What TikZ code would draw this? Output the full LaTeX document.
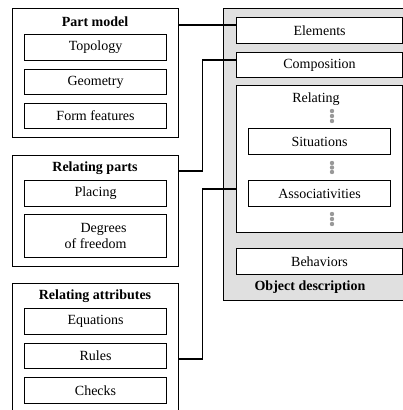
\documentclass[tikz,border=0pt]{standalone}
\usepackage{fontspec}
\setmainfont{Liberation Serif}
\begin{document}
\begin{tikzpicture}[x=1pt,y=-1pt,
  every node/.style={font=\fontsize{14}{16}\selectfont},
  box/.style={draw, line width=1.1pt, fill=white, inner sep=0pt, anchor=north west},
  outerbox/.style={box},
  panel/.style={draw, line width=1.1pt, fill=black!12, inner sep=0pt, anchor=north west},
  title/.style={font=\fontsize{14}{16}\selectfont\bfseries, inner sep=0pt},
  link/.style={line width=1.1pt},
  dot/.style={fill=black!40}
]
\useasboundingbox (0,0) rectangle (403,410);

% ---- left column: part model
\node[outerbox, minimum width=166, minimum height=129] (pm) at (12,8) {};
\node[title] (pmt) at (95,22) {Part model};
\node[box, minimum width=142, minimum height=26] (topo) at (24,34) {};
\node at (topo.center) {Topology};
\node[box, minimum width=142, minimum height=25] (geo) at (24,69) {};
\node at (geo.center) {Geometry};
\node[box, minimum width=142, minimum height=25] (ff) at (24,103) {};
\node at (ff.center) {Form features};

% ---- left column: relating parts
\node[outerbox, minimum width=166, minimum height=111] (rp) at (12,155) {};
\node[title] (rpt) at (95,168) {Relating parts};
\node[box, minimum width=142, minimum height=26] (plc) at (24,180) {};
\node at (plc.center) {Placing};
\node[box, minimum width=142, minimum height=43] (dof) at (24,214) {};
\node[align=right, inner sep=0pt] at (dof.center) {Degrees\\of freedom};

% ---- left column: relating attributes (runs past the lower edge)
\node[outerbox, minimum width=166, minimum height=140] (ra) at (12,283) {};
\node[title] (rat) at (95,296) {Relating attributes};
\node[box, minimum width=142, minimum height=26] (eq) at (24,308) {};
\node at (eq.center) {Equations};
\node[box, minimum width=142, minimum height=25] (rul) at (24,343) {};
\node at (rul.center) {Rules};
\node[box, minimum width=142, minimum height=26] (chk) at (24,377) {};
\node at (chk.center) {Checks};

% ---- right column: object description panel
\node[panel, minimum width=200, minimum height=292] (obj) at (223,8) {};
\node[box, minimum width=166, minimum height=26] (el) at (236,17) {};
\node at (el.center) {Elements};
\node[box, minimum width=166, minimum height=25] (comp) at (236,52) {};
\node at (comp.center) {Composition};
\node[box, minimum width=166, minimum height=147] (rel) at (236,85) {};
\node at (316,99) {Relating};
\node[box, minimum width=142, minimum height=26] (sit) at (248,128) {};
\node at (sit.center) {Situations};
\node[box, minimum width=142, minimum height=26] (asc) at (248,180) {};
\node at (asc.center) {Associativities};
\node[box, minimum width=166, minimum height=26] (beh) at (236,248) {};
\node at (beh.center) {Behaviors};
\node[title] (objt) at (310,287) {Object description};

% continuation dots inside the relating block
\foreach \y in {111,116,121, 163,167.5,172, 214,219,224}
  \fill[dot] (332,\y) circle (2.2);

% ---- connectors
\draw[link] ([yshift=-17pt]pm.north east) -- ([yshift=-8pt]el.north west);
\draw[link] ([yshift=-16pt]rp.north east) -- ++(23,0) |- ([yshift=-8pt]comp.north west);
\draw[link] ([yshift=-76pt]ra.north east) -- ++(23,0) |- ([yshift=-104pt]rel.north west);
\end{tikzpicture}
\end{document}
